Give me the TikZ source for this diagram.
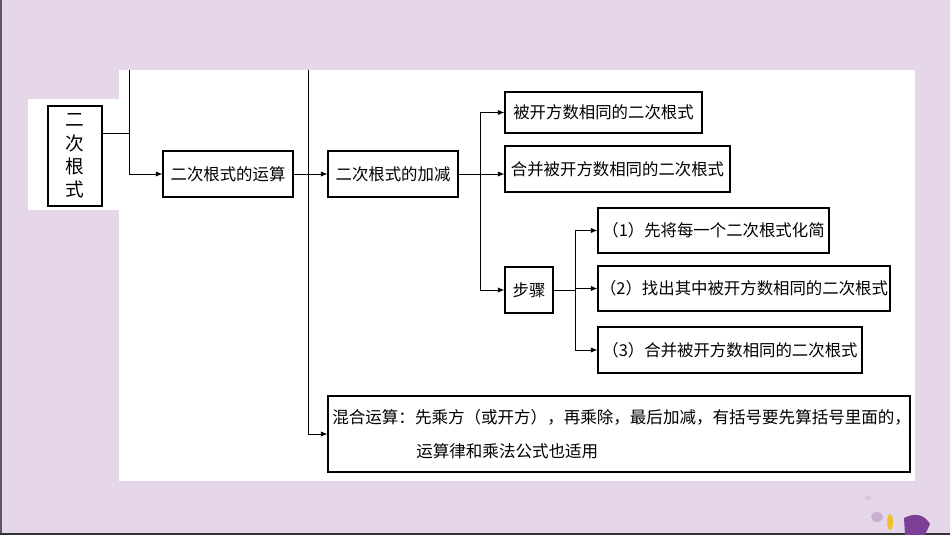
\documentclass[tikz,border=0pt]{standalone}
\usepackage{fontspec}
\newfontfamily\cjk{Noto Sans CJK SC}
\usetikzlibrary{arrows.meta}
\definecolor{bgp}{HTML}{E6D6EA}
\definecolor{grp}{HTML}{7B3F98}
\definecolor{gold}{HTML}{F2C12E}
\definecolor{lp}{HTML}{C9AED4}
\begin{document}
\begin{tikzpicture}[x=0.75pt,y=-0.75pt,
  bx/.style={draw,line width=0.8pt,inner sep=0pt,font=\cjk\fontsize{12.3}{15}\selectfont},
  ln/.style={line width=0.7pt},
  ar/.style={line width=0.7pt,-{Latex[length=5pt,width=4pt]}}]
\fill[bgp] (0,0) rectangle (950,535);
\useasboundingbox (0,0) rectangle (950,535);
\draw[gray!70!black,line width=1.2pt] (1,0) -- (1,535);
\draw[black!80,line width=1.5pt] (0,534) -- (950,534);
\fill[white] (119,70) rectangle (915,481);
\fill[white] (28,99) rectangle (119,210);
% decoration
\fill[lp!70] (868,498) ellipse (3.5 and 2.5);
\fill[lp] (877,517) ellipse (6 and 5);
\fill[gold] (890,522) ellipse (3 and 8);
\fill[grp] (905,535) -- (904,518) .. controls (915,512) and (925,515) .. (930,524) -- (925,535) -- cycle;
% nodes
\node[bx,minimum width=40.5pt,minimum height=75pt,align=center,font=\cjk\fontsize{14}{17.5}\selectfont] (root) at (75,156) {二\\次\\根\\式};
\node[bx,minimum width=97.5pt,minimum height=34.5pt] (ys) at (228,174) {二次根式的运算};
\node[bx,minimum width=97.5pt,minimum height=34.5pt] (jj) at (393,174) {二次根式的加减};
\node[bx,minimum width=147.75pt,minimum height=30.75pt] (b1) at (603.5,112.5) {被开方数相同的二次根式};
\node[bx,minimum width=168.75pt,minimum height=34.5pt] (b2) at (617.5,169) {合并被开方数相同的二次根式};
\node[bx,minimum width=36pt,minimum height=34.5pt] (bz) at (529,290) {步骤};
\node[bx,minimum width=173.25pt,minimum height=33.75pt] (s1) at (713.5,230.5) {（1）先将每一个二次根式化简};
\node[bx,minimum width=219pt,minimum height=33.75pt] (s2) at (744,288.5) {（2）找出其中被开方数相同的二次根式};
\node[bx,minimum width=198pt,minimum height=34.5pt] (s3) at (730,350) {（3）合并被开方数相同的二次根式};
\node[bx,minimum width=436.5pt,minimum height=57pt,text width=430pt,align=left,font=\cjk\fontsize{12.4}{26}\selectfont] (mx) at (619,434) {混合运算：先乘方（或开方），再乘除，最后加减，有括号要先算括号里面的，\\\hspace*{63pt}运算律和乘法公式也适用};
% connectors
\coordinate (t1) at (129,70);
\coordinate (t2) at (308,70);
\draw[ln] (root.east |- 0,133) -- (129,133);
\draw[ar] (t1) |- (ys.west);
\draw[ar] (ys.east) -- (jj.west);
\draw[ln] (t2) -- (308,434);
\draw[ar] (308,434) -- (mx.west);
\draw[ln] (jj.east) -- (480,174);
\draw[ar] (480,174) |- (b1.west);
\draw[ar] (480,174) -- (b2.west |- 0,174);
\draw[ar] (480,174) |- (bz.west);
\draw[ln] (bz.east) -- (575,290);
\draw[ar] (575,290) |- (s1.west);
\draw[ar] (575,290) |- (s2.west);
\draw[ar] (575,290) |- (s3.west);
\end{tikzpicture}
\end{document}
